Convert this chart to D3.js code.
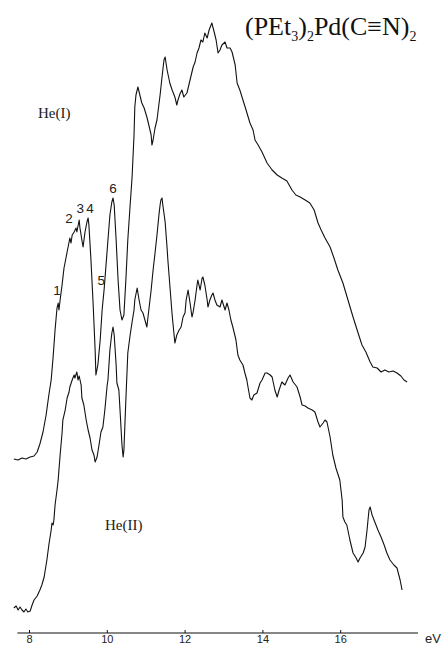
<!DOCTYPE html>
<html>
<head>
<meta charset="utf-8">
<script src="https://cdn.jsdelivr.net/npm/d3@7/dist/d3.min.js"></script>
<style>
  html, body { margin: 0; padding: 0; background: #fff; }
  svg { display: block; }
</style>
</head>
<body>
<div id="chart"></div>
<script>
// Photoelectron spectra of (PEt3)2Pd(C≡N)2, He(I) and He(II) excitation.
// Energies in eV, intensities in arbitrary counts above each trace's baseline.

const heIEnergy = [7.61,7.72,7.82,7.92,8.03,8.13,8.21,8.28,8.36,8.44,8.51,8.57,8.62,8.67,8.72,8.75,8.77,8.80,8.85,8.90,
  8.95,9.00,9.05,9.08,9.11,9.16,9.21,9.23,9.29,9.31,9.36,9.39,9.44,9.49,9.52,9.54,9.59,9.65,9.70,9.72,
  9.77,9.83,9.88,9.93,9.98,10.03,10.08,10.13,10.16,10.19,10.24,10.29,10.34,10.39,10.44,10.49,10.54,10.60,10.65,10.70,
  10.72,10.75,10.80,10.85,10.90,10.96,11.03,11.08,11.14,11.16,11.19,11.24,11.29,11.37,11.42,11.47,11.50,11.55,11.62,11.68,
  11.75,11.80,11.83,11.88,11.93,11.98,12.06,12.14,12.22,12.27,12.32,12.37,12.42,12.47,12.52,12.58,12.63,12.68,12.70,12.76,
  12.81,12.86,12.91,12.96,13.04,13.09,13.17,13.22,13.30,13.35,13.42,13.50,13.58,13.68,13.76,13.81,13.89,13.99,14.12,14.25,
  14.38,14.50,14.63,14.76,14.86,14.97,15.10,15.22,15.33,15.43,15.51,15.61,15.74,15.84,15.94,16.07,16.20,16.33,16.46,16.56,
  16.66,16.77,16.84,16.95,17.05,17.15,17.25,17.36,17.46,17.56,17.64,17.72];
const heICounts = [1,0,2,1,3,4,8,16,28,45,65,80,103,130,152,157,150,160,175,192,
  202,212,222,217,225,228,232,228,240,232,220,213,228,238,242,235,202,155,110,85,
  95,120,150,170,195,220,245,258,262,255,220,180,150,140,145,180,220,255,283,325,
  353,365,373,365,357,352,343,335,325,315,320,332,340,365,383,400,403,390,377,370,
  363,355,360,366,370,363,367,380,393,398,407,412,420,418,427,422,430,435,437,428,
  420,407,410,415,418,412,412,408,395,377,370,360,350,337,330,320,315,308,297,290,
  285,282,279,270,265,263,260,257,250,237,230,222,213,202,190,177,160,143,127,115,
  108,98,93,92,88,90,88,89,87,84,80,78];

const heIIEnergy = [7.61,7.67,7.72,7.77,7.82,7.87,7.92,7.97,8.03,8.08,8.13,8.21,8.28,8.33,8.39,8.41,8.46,8.51,8.57,8.59,
  8.62,8.64,8.67,8.72,8.75,8.80,8.85,8.87,8.93,8.98,9.03,9.05,9.11,9.16,9.18,9.23,9.26,9.29,9.34,9.36,
  9.41,9.47,9.52,9.57,9.62,9.67,9.70,9.75,9.80,9.85,9.90,9.95,10.01,10.03,10.08,10.13,10.16,10.19,10.24,10.26,
  10.31,10.34,10.39,10.42,10.44,10.49,10.54,10.60,10.65,10.70,10.72,10.78,10.83,10.88,10.93,10.98,11.03,11.08,11.14,11.19,
  11.24,11.29,11.34,11.37,11.39,11.42,11.44,11.50,11.55,11.57,11.62,11.68,11.73,11.75,11.80,11.86,11.91,11.96,12.01,12.04,
  12.09,12.14,12.19,12.22,12.27,12.32,12.34,12.40,12.45,12.47,12.52,12.58,12.60,12.65,12.70,12.73,12.78,12.83,12.91,12.96,
  13.04,13.09,13.14,13.19,13.24,13.32,13.37,13.42,13.50,13.55,13.60,13.63,13.68,13.73,13.78,13.86,13.94,13.99,14.07,14.12,
  14.20,14.25,14.32,14.38,14.43,14.50,14.58,14.66,14.71,14.79,14.89,14.97,15.02,15.10,15.17,15.28,15.35,15.43,15.48,15.56,
  15.61,15.66,15.74,15.81,15.89,15.99,16.05,16.07,16.12,16.17,16.25,16.33,16.41,16.46,16.51,16.59,16.64,16.69,16.74,16.77,
  16.82,16.89,16.97,17.05,17.13,17.20,17.28,17.38,17.46,17.54,17.59];
const heIICounts = [3,5,1,4,1,-1,2,-1,0,6,11,15,21,26,34,39,51,66,81,88,
  86,91,106,121,131,156,178,191,201,213,219,224,231,236,233,239,231,235,226,213,
  206,191,181,173,161,156,149,154,166,179,184,201,226,231,261,278,284,276,246,228,
  221,201,166,154,161,211,258,276,289,301,311,323,311,301,298,291,284,301,321,341,
  358,376,396,406,411,413,406,389,363,351,326,296,276,268,276,281,284,294,298,311,
  321,308,294,299,311,326,331,321,333,334,326,311,304,311,316,318,311,306,304,311,
  301,308,301,291,284,271,256,251,246,238,231,224,213,211,216,218,228,231,238,238,
  236,234,221,214,221,229,226,233,236,229,224,214,206,205,203,201,199,189,184,188,
  191,189,174,156,143,131,111,94,89,86,71,58,53,49,53,58,64,81,101,104,
  96,89,81,74,66,58,51,46,43,31,21];

// vertical offsets that stack the two traces on one intensity axis
const traceOffsets = { heI: 176, heII: 25 };

const axisTicks = [8, 10, 12, 14, 16];
const tickLabels = ["8", "10", "12", "14", "16"];

// numbered band assignments on the He(I) trace
const bandLabels = ["1", "2", "3", "4", "5", "6"];
const bandEnergy = [8.72, 9.03, 9.32, 9.57, 9.86, 10.16];
const bandCounts = [165, 237, 247, 247, 175, 267];

const width = 443, height = 646;
const svg = d3.select("#chart").append("svg")
  .attr("width", width).attr("height", height);

const x = d3.scaleLinear().domain([8, 16]).range([29, 340.2]);
const y = d3.scaleLinear().domain([0, 620]).range([636, 16]);

function trace(energy, counts, offset) {
  return energy.map((e, i) => ({ e, c: counts[i] + offset }));
}

const line = d3.line().x(d => x(d.e)).y(d => y(d.c));

svg.append("path")
  .datum(trace(heIEnergy, heICounts, traceOffsets.heI))
  .attr("d", line)
  .attr("fill", "none").attr("stroke", "#111")
  .attr("stroke-width", 1.1).attr("stroke-linejoin", "round");

svg.append("path")
  .datum(trace(heIIEnergy, heIICounts, traceOffsets.heII))
  .attr("d", line)
  .attr("fill", "none").attr("stroke", "#111")
  .attr("stroke-width", 1.1).attr("stroke-linejoin", "round");

// energy axis
const axisY = 633;
const xAxis = d3.axisBottom(x)
  .tickValues(axisTicks)
  .tickFormat((d, i) => tickLabels[i])
  .tickSize(-3)
  .tickPadding(0);

const axisG = svg.append("g")
  .attr("transform", `translate(0,${axisY})`)
  .call(xAxis);
axisG.select(".domain").remove();
axisG.append("line")
  .attr("x1", x(7.7)).attr("x2", x(18.0))
  .attr("stroke", "#111").attr("stroke-width", 1.2);
axisG.selectAll(".tick line").attr("stroke", "#111");
axisG.selectAll(".tick text")
  .attr("fill", "#222")
  .attr("dy", null)
  .attr("y", 10)
  .attr("font-family", "Liberation Sans, Arial, sans-serif")
  .attr("font-size", 11);

svg.append("text")
  .attr("x", 425).attr("y", 642.5)
  .attr("font-family", "Liberation Sans, Arial, sans-serif")
  .attr("font-size", 13).attr("fill", "#222")
  .text("eV");

// band numbers
svg.selectAll("text.band")
  .data(bandLabels)
  .enter().append("text")
  .attr("class", "band")
  .attr("x", (d, i) => x(bandEnergy[i]))
  .attr("y", (d, i) => y(bandCounts[i] + traceOffsets.heI))
  .attr("text-anchor", "middle")
  .attr("font-family", "Liberation Sans, Arial, sans-serif")
  .attr("font-size", 13.5).attr("fill", "#222")
  .text(d => d);

// source labels
const serif = "Liberation Serif, Times New Roman, serif";
svg.append("text")
  .attr("x", 38).attr("y", 118)
  .attr("font-family", serif).attr("font-size", 15).attr("fill", "#222")
  .text("He(I)");
svg.append("text")
  .attr("x", 105).attr("y", 530)
  .attr("font-family", serif).attr("font-size", 15).attr("fill", "#222")
  .text("He(II)");

// compound formula with subscripts
const title = svg.append("text")
  .attr("x", 245).attr("y", 35)
  .attr("font-family", serif).attr("font-size", 26).attr("fill", "#111");
const parts = [
  ["(PEt", false], ["3", true], [")", false], ["2", true],
  ["Pd(C≡N)", false], ["2", true]
];
let shifted = false;
parts.forEach(([t, sub]) => {
  const shift = sub ? (shifted ? 0 : 6) : (shifted ? -6 : 0);
  shifted = sub;
  title.append("tspan")
    .attr("font-size", sub ? 14 : 26)
    .attr("dy", shift)
    .text(t);
});
</script>
</body>
</html>
